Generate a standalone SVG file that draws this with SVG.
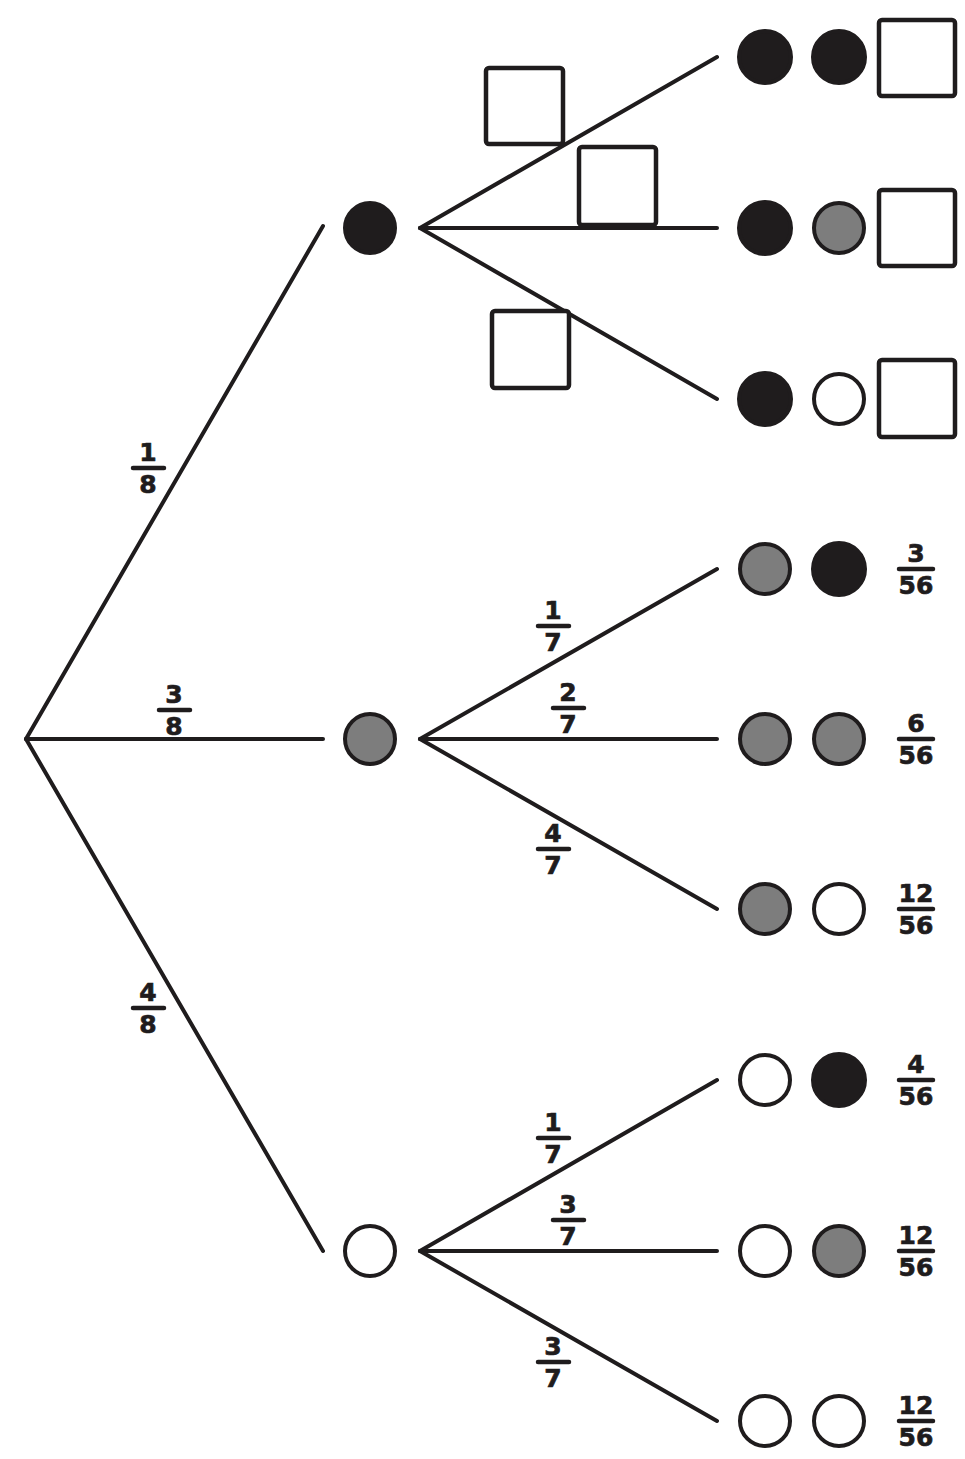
<svg xmlns="http://www.w3.org/2000/svg" width="965" height="1459" viewBox="0 0 965 1459">
<style>
.edge{stroke:#1f1c1d;stroke-width:4;stroke-linecap:round;fill:none}
.blk{fill:#1f1c1d;stroke:#1f1c1d;stroke-width:4}
.gry{fill:#7d7d7d;stroke:#1f1c1d;stroke-width:4}
.wht{fill:#ffffff;stroke:#1f1c1d;stroke-width:4}
.box{fill:#ffffff;stroke:#1f1c1d;stroke-width:4.5;rx:3}
.num{font-family:"DejaVu Sans","Verdana",sans-serif;font-weight:bold;font-size:25px;fill:#1f1c1d;stroke:#1f1c1d;stroke-width:0.7;text-anchor:middle}
.bar{stroke:#1f1c1d;stroke-width:4.5;stroke-linecap:round}
</style>
<rect width="965" height="1459" fill="#ffffff"/>
<g id="connectors">
<line class="edge" x1="26" y1="739" x2="323" y2="226"/>
<line class="edge" x1="26" y1="739" x2="323" y2="739"/>
<line class="edge" x1="26" y1="739" x2="323" y2="1251"/>
<line class="edge" x1="420" y1="228" x2="717" y2="57"/>
<line class="edge" x1="420" y1="228" x2="717" y2="228"/>
<line class="edge" x1="420" y1="228" x2="717" y2="399"/>
<line class="edge" x1="420" y1="739" x2="717" y2="569"/>
<line class="edge" x1="420" y1="739" x2="717" y2="739"/>
<line class="edge" x1="420" y1="739" x2="717" y2="909"/>
<line class="edge" x1="420" y1="1251" x2="717" y2="1080"/>
<line class="edge" x1="420" y1="1251" x2="717" y2="1251"/>
<line class="edge" x1="420" y1="1251" x2="717" y2="1421"/>
</g>
<g id="node-b"><circle class="blk" cx="370" cy="228" r="25"/></g>
<g id="node-g"><circle class="gry" cx="370" cy="739" r="25"/></g>
<g id="node-w"><circle class="wht" cx="370" cy="1251" r="25"/></g>
<g id="leaf-bb"><circle class="blk" cx="765" cy="57" r="26"/><circle class="blk" cx="839" cy="57" r="26"/><rect class="box" x="879" y="20" width="76" height="76"/></g>
<g id="leaf-bg"><circle class="blk" cx="765" cy="228" r="26"/><circle class="gry" cx="839" cy="228" r="25"/><rect class="box" x="879" y="190" width="76" height="76"/></g>
<g id="leaf-bw"><circle class="blk" cx="765" cy="399" r="26"/><circle class="wht" cx="839" cy="399" r="25"/><rect class="box" x="879" y="360" width="76" height="77"/></g>
<g id="leaf-gb"><circle class="gry" cx="765" cy="569" r="25"/><circle class="blk" cx="839" cy="569" r="26"/></g>
<g id="leaf-gg"><circle class="gry" cx="765" cy="739" r="25"/><circle class="gry" cx="839" cy="739" r="25"/></g>
<g id="leaf-gw"><circle class="gry" cx="765" cy="909" r="25"/><circle class="wht" cx="839" cy="909" r="25"/></g>
<g id="leaf-wb"><circle class="wht" cx="765" cy="1080" r="25"/><circle class="blk" cx="839" cy="1080" r="26"/></g>
<g id="leaf-wg"><circle class="wht" cx="765" cy="1251" r="25"/><circle class="gry" cx="839" cy="1251" r="25"/></g>
<g id="leaf-ww"><circle class="wht" cx="765" cy="1421" r="25"/><circle class="wht" cx="839" cy="1421" r="25"/></g>
<g id="blank-boxes">
<rect class="box" x="486" y="68" width="77" height="76"/>
<rect class="box" x="579" y="147" width="77" height="78"/>
<rect class="box" x="492" y="311" width="77" height="77"/>
</g>
<g id="labels">
<text class="num" x="148" y="461">1</text><line class="bar" x1="133" y1="468" x2="164" y2="468"/><text class="num" x="148" y="493">8</text>
<text class="num" x="174" y="703">3</text><line class="bar" x1="159" y1="710" x2="190" y2="710"/><text class="num" x="174" y="735">8</text>
<text class="num" x="148" y="1001">4</text><line class="bar" x1="133" y1="1008" x2="164" y2="1008"/><text class="num" x="148" y="1033">8</text>
<text class="num" x="553" y="619">1</text><line class="bar" x1="538" y1="626" x2="569" y2="626"/><text class="num" x="553" y="651">7</text>
<text class="num" x="568" y="701">2</text><line class="bar" x1="553" y1="708" x2="584" y2="708"/><text class="num" x="568" y="733">7</text>
<text class="num" x="553" y="842">4</text><line class="bar" x1="538" y1="849" x2="569" y2="849"/><text class="num" x="553" y="874">7</text>
<text class="num" x="553" y="1131">1</text><line class="bar" x1="538" y1="1138" x2="569" y2="1138"/><text class="num" x="553" y="1163">7</text>
<text class="num" x="568" y="1213">3</text><line class="bar" x1="553" y1="1220" x2="584" y2="1220"/><text class="num" x="568" y="1245">7</text>
<text class="num" x="553" y="1355">3</text><line class="bar" x1="538" y1="1362" x2="569" y2="1362"/><text class="num" x="553" y="1387">7</text>
<text class="num" x="916" y="562">3</text><line class="bar" x1="899" y1="569" x2="933" y2="569"/><text class="num" x="916" y="594">56</text>
<text class="num" x="916" y="732">6</text><line class="bar" x1="899" y1="739" x2="933" y2="739"/><text class="num" x="916" y="764">56</text>
<text class="num" x="916" y="902">12</text><line class="bar" x1="899" y1="909" x2="933" y2="909"/><text class="num" x="916" y="934">56</text>
<text class="num" x="916" y="1073">4</text><line class="bar" x1="899" y1="1080" x2="933" y2="1080"/><text class="num" x="916" y="1105">56</text>
<text class="num" x="916" y="1244">12</text><line class="bar" x1="899" y1="1251" x2="933" y2="1251"/><text class="num" x="916" y="1276">56</text>
<text class="num" x="916" y="1414">12</text><line class="bar" x1="899" y1="1421" x2="933" y2="1421"/><text class="num" x="916" y="1446">56</text>
</g>
</svg>
